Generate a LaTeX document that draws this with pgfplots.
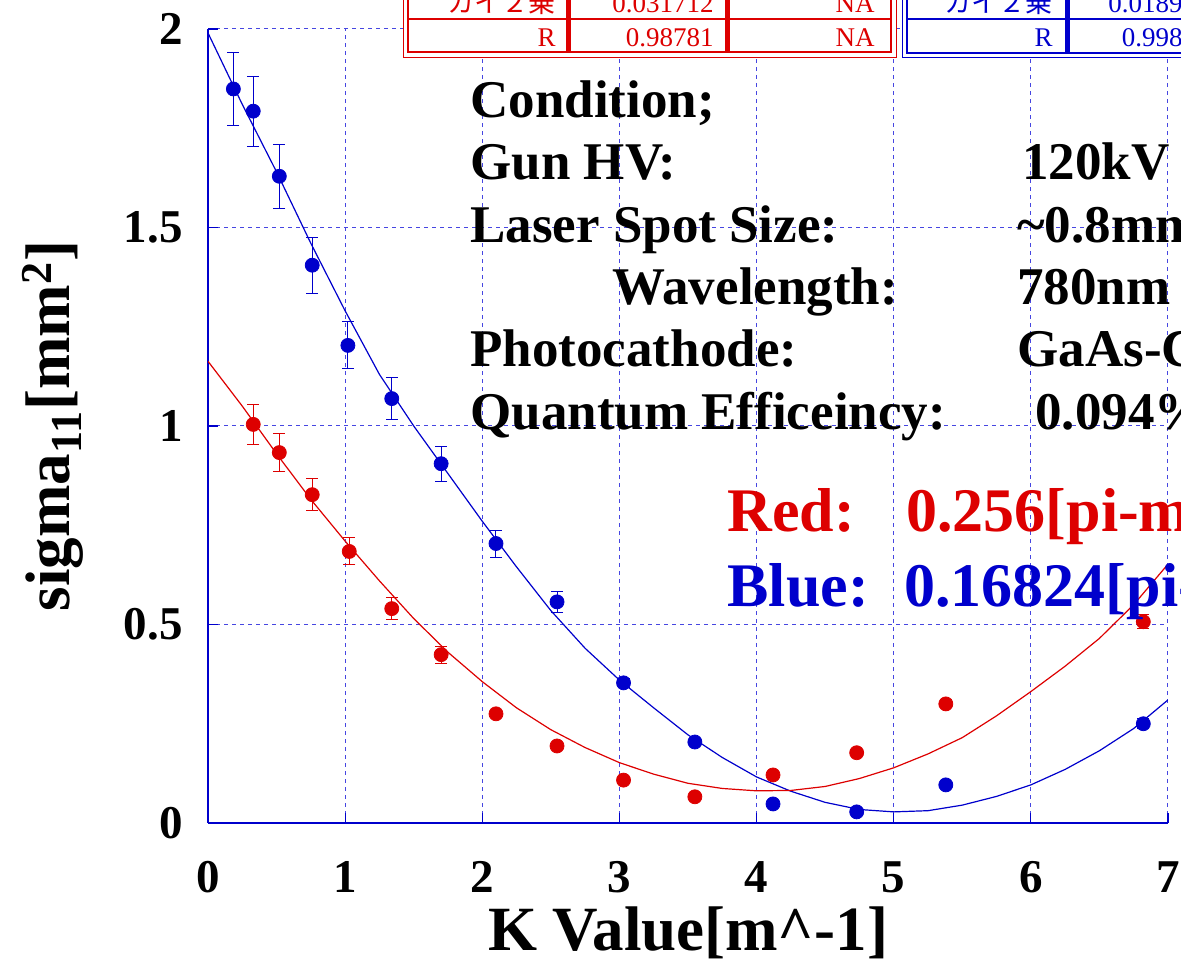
\documentclass[border=0pt]{standalone}
\usepackage{pgfplots}
\pgfplotsset{compat=1.18}
\usepackage{fontspec}
\setmainfont{Liberation Serif}
\newfontfamily\cjk{Noto Sans CJK JP}
\definecolor{rootred}{RGB}{221,0,0}
\definecolor{rootblue}{RGB}{0,0,204}
\definecolor{gridblue}{RGB}{70,70,225}

\begin{document}
\begin{tikzpicture}
\useasboundingbox (-104pt,-69pt) rectangle (486.5pt,411.5pt);
\clip (-104pt,-69pt) rectangle (486.5pt,411.5pt);
\begin{axis}[
  at={(0pt,0pt)}, anchor=south west,
  scale only axis, width=480pt, height=397pt,
  xmin=0, xmax=7, ymin=0, ymax=2,
  xtick={0,1,2,3,4,5,6,7},
  ytick={0,0.5,1,1.5,2},
  axis x line*=bottom, axis y line*=left,
  axis line style={rootblue, line width=0.7pt},
  grid=major,
  grid style={gridblue, line width=0.5pt, dash pattern=on 2pt off 2pt},
  tick align=inside, major tick length=5pt,
  tick style={rootblue, line width=0.6pt},
  ticklabel style={font=\fontsize{23.5}{26}\selectfont\bfseries},
  /pgf/number format/assume math mode=true,
  xticklabel style={anchor=base, inner sep=0pt, yshift=-35pt},
  yticklabel style={anchor=east, inner sep=0pt, xshift=-12.5pt},
  clip=true,
]
% blue fit curve
\addplot[rootblue, line width=0.6pt, no marks] coordinates {
(0,1.99) (0.25,1.81) (0.5,1.64) (0.75,1.46) (1.0,1.29) (1.25,1.13) (1.5,1.00)
(1.75,0.88) (2.0,0.76) (2.25,0.645) (2.5,0.535) (2.75,0.44) (3.0,0.36)
(3.25,0.29) (3.5,0.222) (3.75,0.165) (4.0,0.116) (4.25,0.08) (4.5,0.052)
(4.75,0.034) (5.0,0.028) (5.25,0.031) (5.5,0.045) (5.75,0.067) (6.0,0.096)
(6.25,0.135) (6.5,0.182) (6.75,0.238) (7.0,0.31)};
% red fit curve
\addplot[rootred, line width=0.6pt, no marks] coordinates {
(0,1.163) (0.25,1.05) (0.5,0.93) (0.75,0.815) (1.0,0.71) (1.25,0.61) (1.5,0.515)
(1.75,0.43) (2.0,0.356) (2.25,0.29) (2.5,0.235) (2.75,0.19) (3.0,0.152)
(3.25,0.123) (3.5,0.10) (3.75,0.087) (4.0,0.081) (4.25,0.082) (4.5,0.092)
(4.75,0.112) (5.0,0.139) (5.25,0.174) (5.5,0.215) (5.75,0.27) (6.0,0.331)
(6.25,0.395) (6.5,0.465) (6.75,0.55) (7.0,0.652)};
% blue data
\addplot[rootblue, only marks, mark=*, mark size=3.5pt,
  mark options={draw=rootblue, fill=rootblue},
  error bars/.cd, y dir=both, y explicit,
  error bar style={line width=0.5pt, rootblue},
  error mark options={rotate=90, mark size=3pt, line width=0.5pt, rootblue}]
coordinates {
(0.185,1.849) +- (0,0.093)
(0.33,1.793) +- (0,0.088)
(0.52,1.629) +- (0,0.080)
(0.76,1.405) +- (0,0.071)
(1.02,1.203) +- (0,0.059)
(1.34,1.069) +- (0,0.053)
(1.70,0.905) +- (0,0.044)
(2.10,0.704) +- (0,0.034)
(2.545,0.557) +- (0,0.027)
(3.03,0.353) +- (0,0.012)
(3.55,0.204) +- (0,0.008)
(4.12,0.048) +- (0,0.005)
(4.73,0.028) +- (0,0.004)
(5.38,0.096) +- (0,0.005)
(6.82,0.250) +- (0,0.012)};
% red data
\addplot[rootred, only marks, mark=*, mark size=3.5pt,
  mark options={draw=rootred, fill=rootred},
  error bars/.cd, y dir=both, y explicit,
  error bar style={line width=0.5pt, rootred},
  error mark options={rotate=90, mark size=3pt, line width=0.5pt, rootred}]
coordinates {
(0.33,1.004) +- (0,0.050)
(0.52,0.933) +- (0,0.047)
(0.76,0.827) +- (0,0.041)
(1.03,0.684) +- (0,0.034)
(1.34,0.540) +- (0,0.027)
(1.70,0.424) +- (0,0.021)
(2.10,0.275) +- (0,0.008)
(2.545,0.194) +- (0,0.006)
(3.03,0.108) +- (0,0.004)
(3.55,0.066) +- (0,0.003)
(4.12,0.121) +- (0,0.005)
(4.73,0.177) +- (0,0.007)
(5.38,0.300) +- (0,0.010)
(6.82,0.507) +- (0,0.018)};
\end{axis}
\begin{scope}[x=0.5pt,y=-0.5pt,shift={(-208,-823)}]
% red table
\fill[white] (403,-60) rectangle (896,58);
\draw[rootred, line width=0.5pt] (403,-60) -- (403,58) -- (896,58) -- (896,-60);
\draw[rootred, line width=1pt] (408,-60) -- (408,52) -- (891,52) -- (891,-60);
\draw[rootred, line width=1.2pt] (408,19) -- (891,19);
\draw[rootred, line width=2.5pt] (568,-60) -- (568,52);
\draw[rootred, line width=2.5pt] (727,-60) -- (727,52);
\begin{scope}[every node/.style={anchor=base east, inner sep=0pt, text=rootred, font=\fontsize{13.5}{14}\selectfont}]
\node at (556,13) {\cjk カイ２乗};
\node at (714,13) {0.031712};
\node at (875,13) {NA};
\node at (556,47) {R};
\node at (714,47) {0.98781};
\node at (875,47) {NA};
\end{scope}
% blue table
\fill[white] (902,-60) rectangle (1400,58);
\draw[rootblue, line width=0.5pt] (902,-60) -- (902,58) -- (1400,58);
\draw[rootblue, line width=1pt] (907,-60) -- (907,53) -- (1400,53);
\draw[rootblue, line width=1.2pt] (907,19) -- (1400,19);
\draw[rootblue, line width=2.5pt] (1067,-60) -- (1067,53);
\draw[rootblue, line width=2.5pt] (1223,-60) -- (1223,53);
\begin{scope}[every node/.style={anchor=base east, inner sep=0pt, text=rootblue, font=\fontsize{13.5}{14}\selectfont}]
\node at (1053,13) {\cjk カイ２乗};
\node at (1210,13) {0.018942};
\node at (1053,47) {R};
\node at (1210,47) {0.99843};
\end{scope}
% condition text
\begin{scope}[every node/.style={anchor=base west, inner sep=0pt, font=\fontsize{26.5}{28}\selectfont\bfseries}]
\node at (470,118) {Condition;};
\node at (470,180) {Gun HV:};
\node at (1022,180) {120kV};
\node at (470,243) {Laser Spot Size:};
\node at (1017,243) {\textasciitilde0.8mm};
\node at (612,305) {Wavelength:};
\node at (1017,305) {780nm};
\node at (470,367) {Photocathode:};
\node at (1017,367) {GaAs-CsO};
\node at (470,430) {Quantum Efficeincy:};
\node at (1035,430) {0.094\%};
\end{scope}
\begin{scope}[every node/.style={anchor=base west, inner sep=0pt, font=\fontsize{31}{33}\selectfont\bfseries}]
\node[text=rootred] at (727,532) {Red:};
\node[text=rootred] at (906,532) {0.256[pi-mm-mrad]};
\node[text=rootblue] at (727,607) {Blue:};
\node[text=rootblue] at (904,607) {0.16824[pi-mm-mrad]};
\end{scope}
% axis titles
\node[anchor=base, inner sep=0pt, font=\fontsize{31.5}{33}\selectfont\bfseries] at (688,951) {K Value[m\textasciicircum-1]};
\node[rotate=90, anchor=base, inner sep=0pt, font=\fontsize{31.5}{33}\selectfont\bfseries] at (70,426) {sigma\textsubscript{11}[mm\textsuperscript{2}]};
\end{scope}
\end{tikzpicture}
\end{document}
